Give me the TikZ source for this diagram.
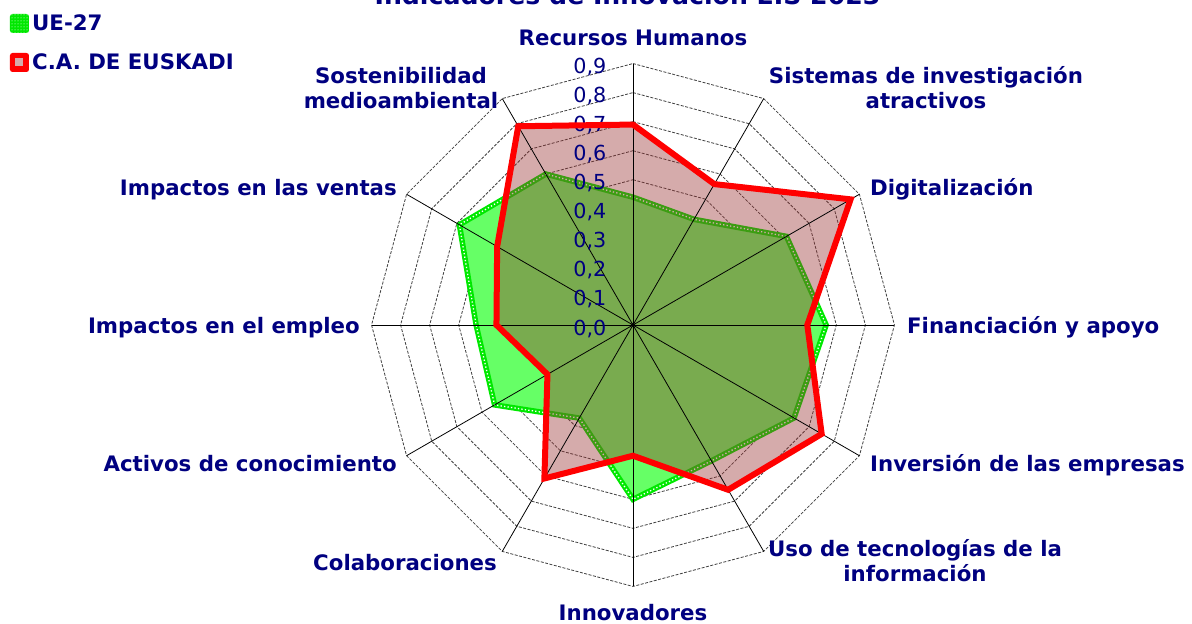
\documentclass[tikz,border=0pt]{standalone}
\usepackage{fontspec}
\setmainfont{DejaVu Sans}
\usepackage{xcolor}
\usepackage{tikz}
\usetikzlibrary{patterns}
\definecolor{dnavy}{RGB}{0,0,128}
\definecolor{uegreen}{RGB}{102,255,102}
\definecolor{ueline}{RGB}{0,232,0}
\definecolor{eusred}{RGB}{150,45,45}
\newcommand\ueval{0.44,0.42,0.61,0.665,0.64,0.54,0.60,0.37,0.55,0.54,0.69,0.60}
\newcommand\eusval{0.69,0.56,0.865,0.60,0.75,0.655,0.45,0.61,0.34,0.47,0.54,0.79}
\tikzstyle{ring}=[line width=.8pt,black!75,dash pattern=on 3pt off 1.5pt]
\tikzstyle{spk}=[line width=.8pt,black]
\tikzstyle{lbl}=[text=dnavy,font=\bfseries\fontsize{21.3}{25}\selectfont,inner sep=0pt,align=center]
\tikzstyle{tck}=[text=dnavy,font=\fontsize{20.7}{24}\selectfont,inner sep=0pt,anchor=base east]
\tikzstyle{keybox}=[minimum size=19pt,inner sep=0pt,rounded corners=2.5pt]

\begin{document}
\begin{tikzpicture}[x=1pt,y=1pt]
	\useasboundingbox (-633,-299) rectangle (559,325);
	\node[lbl,font=\bfseries\fontsize{25.2}{30}\selectfont,anchor=base] (title) at (-5.5,320) {Indicadores de Innovación EIS 2023};
	\coordinate (o) at (0,0);
	\foreach \j in {0,...,11}
		\coordinate (v\j) at ({90-30*\j}:261.45);
	\foreach \k in {1,...,9}
		\draw[ring] (90:{29.05*\k}) \foreach \j in {1,...,11}{ -- ({90-30*\j}:{29.05*\k})} -- cycle;
	\foreach \v [count=\i from 0] in \ueval
		\coordinate (u\i) at ({90-30*\i}:{290.5*\v});
	\foreach \v [count=\i from 0] in \eusval
		\coordinate (e\i) at ({90-30*\i}:{290.5*\v});
	\fill[uegreen] (u0) \foreach \i in {1,...,11}{ -- (u\i)} -- cycle;
	\draw[ueline,line width=5.5pt] (u0) \foreach \i in {1,...,11}{ -- (u\i)} -- cycle;
	\draw[white,line width=1.3pt,dash pattern=on 1.3pt off 2.2pt] (u0) \foreach \i in {1,...,11}{ -- (u\i)} -- cycle;
	\fill[eusred,fill opacity=.4] (e0) \foreach \i in {1,...,11}{ -- (e\i)} -- cycle;
	\foreach \j in {0,...,11}
		\draw[spk] (o) -- (v\j);
	\fill (o) circle (2);
	\foreach \k in {0,...,9}
		\node[tck] (t\k) at (-26.5,{29.05*\k-10}) {0,\k};
	\draw[red,line width=6pt] (e0) \foreach \i in {1,...,11}{ -- (e\i)} -- cycle;

	\node[lbl,anchor=base] (rh) at (0,279) {Recursos Humanos};
	\node[lbl] (sia) at (293,237) {Sistemas de investigación\\atractivos};
	\node[lbl,anchor=base west] (dig) at (237,129) {Digitalización};
	\node[lbl,anchor=base west] (fin) at (274,-9) {Financiación y apoyo};
	\node[lbl,anchor=base west] (inv) at (237,-146) {Inversión de las empresas};
	\node[lbl] (tic) at (282,-236) {Uso de tecnologías de la\\información};
	\node[lbl,anchor=base] (inn) at (0,-295) {Innovadores};
	\node[lbl,anchor=base east] (col) at (-136,-245) {Colaboraciones};
	\node[lbl,anchor=base east] (act) at (-236,-146) {Activos de conocimiento};
	\node[lbl,anchor=base east] (emp) at (-273,-9) {Impactos en el empleo};
	\node[lbl,anchor=base east] (ven) at (-236,129) {Impactos en las ventas};
	\node[lbl] (sos) at (-232,237) {Sostenibilidad\\medioambiental};

	\node[keybox,fill=ueline] (kue) at (-613.5,301.5) {};
	\fill[pattern=dots,pattern color=white] (kue.south west) rectangle (kue.north east);
	\node[lbl,anchor=base west] (tue) at (-601,294) {UE-27};
	\node[keybox,fill=red] (keus) at (-613.5,262.5) {};
	\node[fill=eusred!40,minimum size=8pt,inner sep=0pt] (ieus) at (keus) {};
	\node[lbl,anchor=base west] (teus) at (-601,255) {C.A. DE EUSKADI};
\end{tikzpicture}
\end{document}
